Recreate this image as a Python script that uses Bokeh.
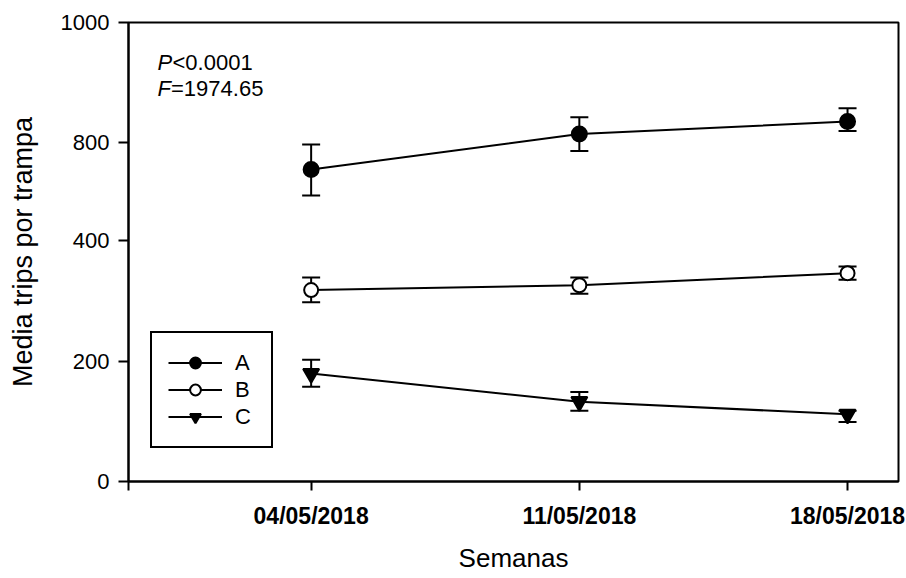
import numpy as np
from bokeh.plotting import figure
from bokeh.models import (Range1d, FixedTicker, Whisker, TeeHead, ColumnDataSource,
                          Legend, LegendItem, Label)
from bokeh.embed import file_html
from bokeh.resources import INLINE

# ---- data ----
dates = ["04/05/2018", "11/05/2018", "18/05/2018"]
x_idx = [0, 1, 2]
a_mean = [690, 814, 835]
a_lo = [584, 765, 819]
a_hi = [792, 842, 857]
b_mean = [318, 326, 346]
b_lo = [298, 312, 335]
b_hi = [339, 339, 357]
c_mean = [180, 133, 112]
c_lo = [158, 118, 99]
c_hi = [203, 149, 118]

# y axis: custom (non-linear) scale, tick values and their positions along the axis
y_ticks = [0, 200, 400, 800, 1000]
y_tick_pos = [0, 120, 241, 339, 459]

def ty(v):
    return list(np.interp(v, y_ticks, y_tick_pos))

FONT = "Liberation Sans"
x_start = -0.681

p = figure(width=906, height=578, output_backend="svg", toolbar_location=None,
           x_range=Range1d(x_start, 2.19), y_range=Range1d(0, 459),
           min_border_left=128, min_border_right=8, min_border_top=22,
           min_border_bottom=97)
p.grid.visible = False
p.background_fill_color = "white"
p.border_fill_color = "white"
p.outline_line_color = "black"
p.outline_line_width = 2
p.outline_line_alpha = 1

# axes
p.yaxis.ticker = FixedTicker(ticks=y_tick_pos)
p.yaxis.major_label_overrides = {pos: str(v) for pos, v in zip(y_tick_pos, y_ticks)}
p.yaxis.major_tick_out = 10
p.yaxis.major_tick_in = 0
p.yaxis.minor_tick_line_color = None
p.yaxis.major_label_text_font = FONT
p.yaxis.major_label_text_font_size = "22px"
p.yaxis.major_label_text_color = "black"
p.yaxis.major_label_standoff = 9
p.yaxis.axis_label = "Media trips por trampa"
p.yaxis.axis_label_text_font = FONT
p.yaxis.axis_label_text_font_size = "27px"
p.yaxis.axis_label_text_font_style = "normal"
p.yaxis.axis_label_text_color = "black"
p.yaxis.axis_label_standoff = 20

p.xaxis.ticker = FixedTicker(ticks=[x_start] + x_idx)
p.xaxis.major_label_overrides = {x_start: "", **{xi: d for xi, d in zip(x_idx, dates)}}
p.xaxis.major_tick_out = 9
p.xaxis.major_tick_in = 0
p.xaxis.minor_tick_line_color = None
p.xaxis.major_label_text_font = FONT
p.xaxis.major_label_text_font_size = "23px"
p.xaxis.major_label_text_font_style = "bold"
p.xaxis.major_label_text_color = "black"
p.xaxis.major_label_standoff = 12
p.xaxis.axis_label = "Semanas"
p.xaxis.axis_label_text_font = FONT
p.xaxis.axis_label_text_font_size = "26px"
p.xaxis.axis_label_text_font_style = "normal"
p.xaxis.axis_label_text_color = "black"
p.xaxis.axis_label_standoff = 11

for ax in (p.xaxis, p.yaxis):
    ax.axis_line_width = 2
    ax.axis_line_color = "black"
    ax.major_tick_line_width = 2
    ax.major_tick_line_color = "black"

series = [
    ("A", a_mean, a_lo, a_hi, "circle", "black", 15),
    ("B", b_mean, b_lo, b_hi, "circle", "white", 14),
    ("C", c_mean, c_lo, c_hi, "inverted_triangle", "black", 16),
]
items = []
for name, m, lo, hi, marker, fill, size in series:
    src = ColumnDataSource(dict(x=x_idx, y=ty(m), lo=ty(lo), hi=ty(hi)))
    w = Whisker(base="x", lower="lo", upper="hi", source=src, dimension="height",
                line_color="black", line_width=2, level="underlay",
                upper_head=TeeHead(size=18, line_width=2, line_color="black"),
                lower_head=TeeHead(size=18, line_width=2, line_color="black"))
    p.add_layout(w)
    ln = p.line("x", "y", source=src, line_color="black", line_width=2)
    sc = p.scatter("x", "y", source=src, marker=marker, size=size,
                   fill_color=fill, line_color="black", line_width=2)
    items.append(LegendItem(label=name, renderers=[ln, sc]))

legend = Legend(items=items, location=(22, 33), orientation="vertical",
                label_text_font=FONT, label_text_font_size="22px",
                label_text_color="black", label_height=27, glyph_height=27,
                glyph_width=54, spacing=0, padding=16, label_standoff=13,
                border_line_color="black", border_line_width=2, border_line_alpha=1,
                background_fill_color="white", background_fill_alpha=1,
                margin=0)
p.add_layout(legend, "center")

# statistics text
y_top = 459
stats = [("P", "<0.0001", -40, 44), ("F", "=1974.65", -66, 42.5)]
for ital, rest, dy, dx2 in stats:
    p.add_layout(Label(x=x_start, y=y_top, text=ital, x_offset=29, y_offset=dy,
                       text_align="left", text_baseline="alphabetic",
                       text_font=FONT, text_font_size="22px",
                       text_font_style="italic", text_color="black"))
    p.add_layout(Label(x=x_start, y=y_top, text=rest, x_offset=dx2, y_offset=dy,
                       text_align="left", text_baseline="alphabetic",
                       text_font=FONT, text_font_size="22px",
                       text_color="black"))

open("out.html", "w").write(file_html(p, INLINE))
